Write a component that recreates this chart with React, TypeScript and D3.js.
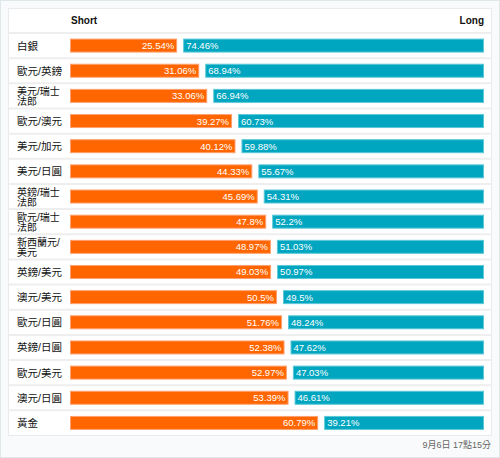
import React from "react";
import * as d3 from "d3";

const categories: string[] = [
  "白銀", "歐元/英鎊", "美元/瑞士\n法郎", "歐元/澳元", "美元/加元", "美元/日圓",
  "英鎊/瑞士\n法郎", "歐元/瑞士\n法郎", "新西蘭元/\n美元", "英鎊/美元", "澳元/美元",
  "歐元/日圓", "英鎊/日圓", "歐元/美元", "澳元/日圓", "黃金",
];
const shortValues: number[] = [25.54, 31.06, 33.06, 39.27, 40.12, 44.33, 45.69, 47.8, 48.97, 49.03, 50.5, 51.76, 52.38, 52.97, 53.39, 60.79];
const longValues: number[] = [74.46, 68.94, 66.94, 60.73, 59.88, 55.67, 54.31, 52.2, 51.03, 50.97, 49.5, 48.24, 47.62, 47.03, 46.61, 39.21];
const seriesNames = ["Short", "Long"];
const footerText = "9月6日 17點15分";

const W = 500, H = 458;
const SHORT_C = "#ff6600";
const LONG_C = "#00a6c0";
const FONT = "'Liberation Sans', Arial, 'Noto Sans CJK TC', sans-serif";

export default function App() {
  const cardX = 8, cardY = 8, cardW = 484, cardH = 428;
  const headerBottom = 33;
  const barLeft = 70;
  const gap = 6, padS = 5, padL = 3;
  const y = d3.scaleBand<number>().domain(d3.range(categories.length)).range([headerBottom, 435.5]).paddingInner(0);
  const x = d3.scaleLinear().domain([0, 100]).range([0, 400]);
  const barH = 14;
  return (
    <svg width={W} height={H} style={{ position: "fixed", left: 0, top: 0 }} fontFamily={FONT}>
      <rect x={0.5} y={0.5} width={W - 1} height={H - 1} fill="#f8fafb" stroke="#dfe7ea" />
      <rect x={cardX + 0.5} y={cardY + 0.5} width={cardW - 1} height={cardH - 1} fill="#fff" stroke="#e8ecee" />
      <text x={71} y={24} fontSize={10} fontWeight="bold" fill="#111">{seriesNames[0]}</text>
      <text x={484} y={24} fontSize={10} fontWeight="bold" fill="#111" textAnchor="end">{seriesNames[1]}</text>
      {categories.map((c, i) => {
        const top = y(i)!;
        const bw = y.bandwidth();
        const cy = top + bw / 2;
        const sw = x(shortValues[i]) + padS;
        const lx = barLeft + sw + gap;
        const lw = x(longValues[i]) + padL;
        const lines = c.split("\n");
        return (
          <g key={c}>
            <line x1={cardX + 1} x2={cardX + cardW - 1} y1={top} y2={top} stroke="#eeeeee" strokeWidth={2} />
            {lines.map((ln, j) => (
              <text key={j} x={17} y={cy + 4 + (j - (lines.length - 1) / 2) * 10} fontSize={lines.length > 1 ? 10 : 10.5} fill="#111">{ln}</text>
            ))}
            <rect x={barLeft + 0.5} y={cy - barH / 2 + 0.5} width={sw - 1} height={barH - 1} fill={SHORT_C} stroke="#ffa070" strokeWidth={1} />
            <rect x={lx + 0.5} y={cy - barH / 2 + 0.5} width={lw - 1} height={barH - 1} fill={LONG_C} stroke="#5cc8d8" strokeWidth={1} />
            <text x={barLeft + sw - 3} y={cy + 3.5} fontSize={9.5} fill="#fff" textAnchor="end">{shortValues[i] + "%"}</text>
            <text x={lx + 3} y={cy + 3.5} fontSize={9.5} fill="#fff">{longValues[i] + "%"}</text>
          </g>
        );
      })}
      <text x={491} y={448} fontSize={9} fill="#666" textAnchor="end">{footerText}</text>
    </svg>
  );
}
